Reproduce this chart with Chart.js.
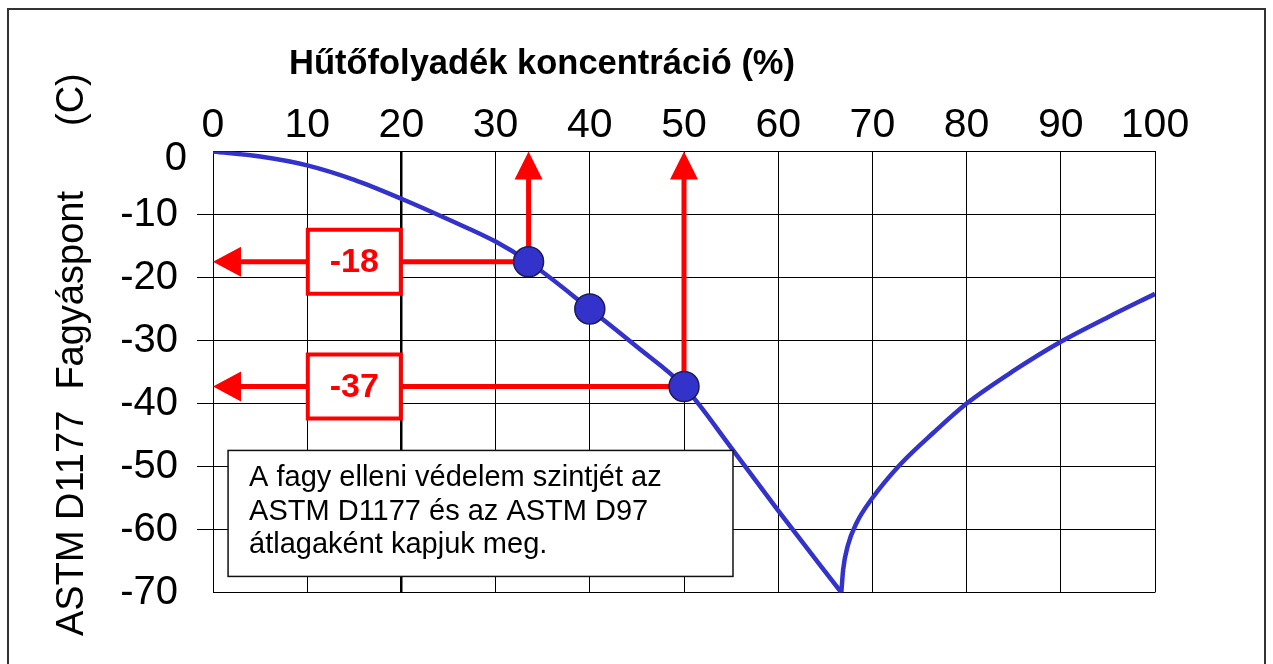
<!DOCTYPE html>
<html><head><meta charset="utf-8">
<script src="https://cdn.jsdelivr.net/npm/chart.js@4"></script>
<style>html,body{margin:0;padding:0;background:#fff;}canvas{display:block}</style>
</head><body>
<canvas id="c" width="1273" height="664"></canvas>
<script>
// ---- data ----
const xTitle = 'Hűtőfolyadék koncentráció (%)';
const yTitleMain = 'ASTM D1177  Fagyáspont';
const yTitleUnit = '(C)';
const xMin = 0, xMax = 100, xStep = 10;
const yMin = -70, yMax = 0, yStep = 10;
const leftBranchX = [0, 5, 10, 15, 20, 25, 30, 33.5, 40, 45, 50, 55, 60, 66.7];
const leftBranchY = [0, -0.8, -2.2, -4.5, -7.5, -10.8, -14.3, -17.5, -25, -31, -37.3, -47, -57, -70];
const rightBranchX = [66.7, 66.9, 67.4, 68.3, 70, 73, 76.5, 80, 85, 90, 95, 100];
const rightBranchY = [-70, -66.3, -62.5, -59, -55, -49.6, -44.6, -40, -34.8, -30.2, -26.3, -22.6];
const markerX = [33.5, 40, 50];
const markerY = [-17.5, -25, -37.3];
const arrowX = [33.5, 50];
const arrowY = [-17.5, -37.3];
const arrowLabels = ['-18', '-37'];
const noteLines = ['A fagy elleni védelem szintjét az', 'ASTM D1177 és az ASTM D97', 'átlagaként kapjuk meg.'];

const FONT = '"Liberation Sans", Arial, sans-serif';
const BLUE = '#3333cc';
const RED = '#ff0000';

const toPts = (xs, ys) => xs.map((x, i) => ({x, y: ys[i]}));

const decor = {
  id: 'decor',
  beforeDraw(chart) {
    const ctx = chart.ctx;
    ctx.save();
    ctx.fillStyle = '#fff';
    ctx.fillRect(0, 0, chart.width, chart.height);
    ctx.strokeStyle = '#333';
    ctx.lineWidth = 2;
    ctx.strokeRect(8, 9, 1257, 700);
    ctx.restore();
  },
  beforeDatasetsDraw(chart) {
    const ctx = chart.ctx, xs = chart.scales.x, ys = chart.scales.y;
    const x0 = xs.getPixelForValue(0), yTop = ys.getPixelForValue(0);
    const head = 28;
    ctx.save();
    ctx.strokeStyle = RED; ctx.fillStyle = RED; ctx.lineWidth = 5;
    arrowX.forEach((v, i) => {
      const px = xs.getPixelForValue(v), py = ys.getPixelForValue(arrowY[i]);
      ctx.strokeStyle = RED; ctx.fillStyle = RED; ctx.lineWidth = 5;
      ctx.beginPath(); ctx.moveTo(px, py); ctx.lineTo(x0 + head - 2, py); ctx.stroke();
      ctx.beginPath(); ctx.moveTo(x0, py); ctx.lineTo(x0 + head, py - 15); ctx.lineTo(x0 + head, py + 15); ctx.closePath(); ctx.fill();
      ctx.beginPath(); ctx.moveTo(px, py); ctx.lineTo(px, yTop + head - 2); ctx.stroke();
      ctx.beginPath(); ctx.moveTo(px, yTop); ctx.lineTo(px - 14, yTop + head); ctx.lineTo(px + 14, yTop + head); ctx.closePath(); ctx.fill();
      // label box
      const cx = xs.getPixelForValue(15);
      const w = 93, h = 64;
      ctx.fillStyle = '#fff';
      ctx.fillRect(cx - w / 2, py - h / 2, w, h);
      ctx.lineWidth = 4; ctx.strokeStyle = RED;
      ctx.strokeRect(cx - w / 2, py - h / 2, w, h);
      ctx.fillStyle = RED;
      ctx.font = 'bold 34px ' + FONT;
      ctx.textAlign = 'center'; ctx.textBaseline = 'middle';
      ctx.fillText(arrowLabels[i], cx, py + 1);
    });
    ctx.restore();
  },
  afterDatasetsDraw(chart) {
    const ctx = chart.ctx, xs = chart.scales.x, ys = chart.scales.y;
    ctx.save();
    // y tick label "0" (offset in the original)
    ctx.fillStyle = '#000';
    ctx.font = '40px ' + FONT;
    ctx.textAlign = 'right'; ctx.textBaseline = 'middle';
    ctx.fillText(String(yMax), xs.left - 26, ys.getPixelForValue(yMax) + 7);
    // note box
    const bx1 = xs.getPixelForValue(1.6), bx2 = xs.getPixelForValue(55.2);
    const by1 = ys.getPixelForValue(-47.45), by2 = ys.getPixelForValue(-67.45);
    ctx.fillStyle = '#fff';
    ctx.fillRect(bx1, by1, bx2 - bx1, by2 - by1);
    ctx.strokeStyle = '#111'; ctx.lineWidth = 1.5;
    ctx.strokeRect(bx1, by1, bx2 - bx1, by2 - by1);
    ctx.fillStyle = '#000';
    ctx.font = '29px ' + FONT;
    ctx.textAlign = 'left'; ctx.textBaseline = 'alphabetic';
    noteLines.forEach((t, i) => ctx.fillText(t, bx1 + 21, by1 + 36 + i * 33.5));
    // x title
    ctx.font = 'bold 34.5px ' + FONT;
    ctx.textAlign = 'center';
    ctx.fillText(xTitle, 542, 74);
    // y title (rotated)
    ctx.font = '38px ' + FONT;
    ctx.translate(83, 636);
    ctx.rotate(-Math.PI / 2);
    ctx.textAlign = 'left';
    ctx.fillText(yTitleMain, 0, 0);
    ctx.fillText(yTitleUnit, 636 - 126, 0);
    ctx.restore();
  }
};

new Chart(document.getElementById('c'), {
  type: 'scatter',
  data: {
    datasets: [
      {
        data: toPts(markerX, markerY),
        showLine: false,
        pointRadius: 15,
        pointHoverRadius: 15,
        backgroundColor: BLUE,
        borderColor: '#1c1c5a',
        borderWidth: 1.5
      },
      {
        data: toPts(leftBranchX, leftBranchY),
        showLine: true,
        pointRadius: 0,
        borderColor: BLUE,
        borderWidth: 4.5,
        cubicInterpolationMode: 'monotone',
        fill: false
      },
      {
        data: toPts(rightBranchX, rightBranchY),
        showLine: true,
        pointRadius: 0,
        borderColor: BLUE,
        borderWidth: 4.5,
        cubicInterpolationMode: 'monotone',
        fill: false
      }
    ]
  },
  options: {
    responsive: false,
    animation: false,
    layout: { padding: { left: 0, top: 0, right: 118, bottom: 71.5 } },
    plugins: { legend: { display: false }, tooltip: { enabled: false } },
    scales: {
      x: {
        type: 'linear', position: 'top', min: xMin, max: xMax,
        afterFit(s) { s.height = 151.5; },
        ticks: { stepSize: xStep, color: '#000', font: { family: FONT, size: 41 }, padding: 1, maxRotation: 0 },
        grid: { color: '#000', lineWidth: c => c.tick && c.tick.value === 20 ? 2.5 : 1, drawTicks: false },
        border: { display: true, color: '#000', width: 1 }
      },
      y: {
        type: 'linear', position: 'left', min: yMin, max: yMax,
        afterFit(s) { s.width = 213; },
        ticks: {
          stepSize: yStep, color: '#000', font: { family: FONT, size: 40 }, padding: 19,
          callback: v => (v === yMax ? '' : String(v))
        },
        grid: {
          color: '#000', lineWidth: 1, tickLength: 16,
          tickColor: c => (c.tick && (c.tick.value === 0 || c.tick.value === -70)) ? 'rgba(0,0,0,0)' : '#000'
        },
        border: { display: true, color: '#000', width: 1 }
      }
    }
  },
  plugins: [decor]
});
</script>
</body></html>
